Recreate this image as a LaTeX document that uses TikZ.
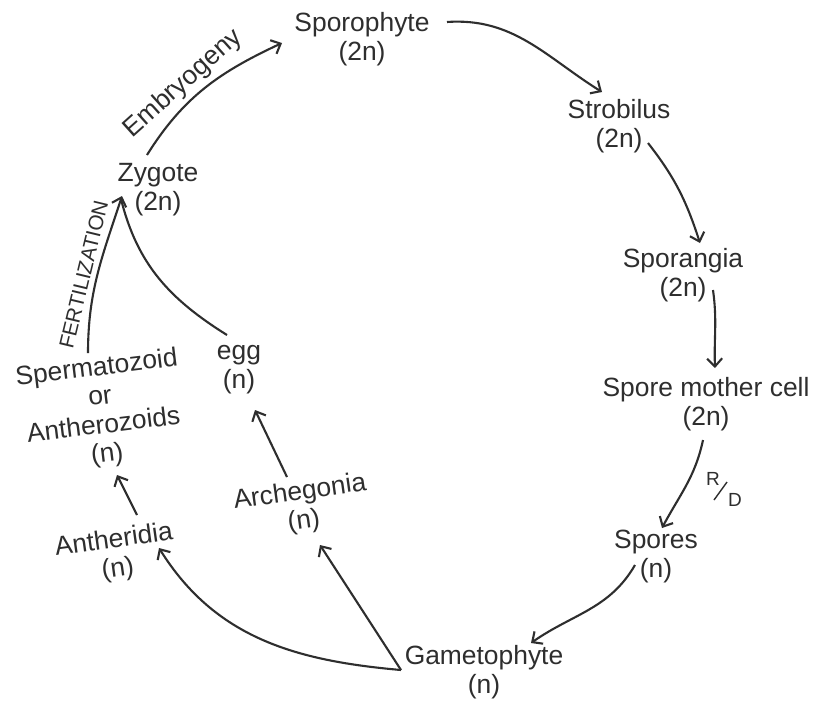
\documentclass[tikz,border=0pt]{standalone}
\usepackage{fontspec}
\setmainfont{Liberation Sans}
\usetikzlibrary{arrows.meta,calc}
\definecolor{ink}{HTML}{2E2E2E}
\begin{document}
\begin{tikzpicture}[x=1pt,y=1pt,
  lab/.style={align=center,inner sep=0pt,text=ink,font=\fontsize{26.4}{29}\selectfont},
  small/.style={inner sep=0pt,text=ink,font=\fontsize{20.8}{24}\selectfont},
  tiny/.style={inner sep=0pt,text=ink,font=\fontsize{19}{22}\selectfont},
  conn/.style={draw=ink,line width=2.1pt},
  arr/.style={conn,-{Straight Barb[length=8pt,width=15pt]}}]
\useasboundingbox (0,0) rectangle (816,-702);
\fill[white] (0,0) rectangle (816,-702);
% nodes
\node[lab] (spo) at (362,-39) {Sporophyte\\(2n)};
\node[lab] (str) at (619,-126) {Strobilus\\(2n)};
\node[lab] (spg) at (683,-275) {Sporangia\\(2n)};
\node[lab] (smc) at (706,-404) {Spore mother cell\\(2n)};
\node[lab] (spr) at (656,-557) {Spores\\(n)};
\node[lab] (gam) at (484,-672) {Gametophyte\\(n)};
\node[lab,rotate=8] (anth) at (116,-555) {Antheridia\\(n)};
\node[lab,rotate=8] (arch) at (302,-507) {Archegonia\\(n)};
\node[lab,rotate=7] (sperm) at (102,-412) {Spermatozoid\\or\\Antherozoids\\(n)};
\node[lab] (egg) at (239,-370) {egg\\(n)};
\node[lab] (zyg) at (158,-190) {Zygote\\(2n)};
\node[tiny] (r) at (713,-479) {R};
\node[tiny] (d) at (735,-500) {D};
% connectors
\draw[arr] ($(spo)+(85,17)$) to[out=4,in=148] ($(str)+(-17,34)$);
\draw[arr] ($(str)+(29,-17)$) to[out=-52,in=108] ($(spg)+(17,32)$);
\draw[arr] ($(spg)+(30,-15)$) to[out=-82,in=92] ($(smc)+(9,36)$);
\draw[arr] ($(smc)+(-3,-36)$) to[out=-102,in=62] ($(spr)+(6,29)$);
\draw[arr] ($(spr)+(-21,-8)$) to[out=-120,in=35] ($(gam)+(47,29)$);
\draw[arr] ($(gam)+(-83,2)$) to[out=175,in=-58] ($(anth)+(43,7)$);
\draw[arr] ($(gam)+(-83,2)$) -- ($(arch)+(18,-38)$);
\draw[arr] ($(anth)+(21,40)$) -- ($(sperm)+(15,-63)$);
\draw[arr] ($(arch)+(-15,30)$) -- ($(egg)+(16,-40)$);
\draw[arr] ($(sperm)+(-14,59)$) to[out=90,in=-108]
  node[small,sloped,above=5pt,pos=0.47] (fert) {FERTILIZATION} ($(zyg)+(-36,-6)$);
\draw[conn] ($(egg)+(-12,35)$) to[out=148,in=-76] ($(zyg)+(-37,-9)$);
\draw[arr] ($(zyg)+(-11,35)$) to[out=58,in=-155]
  node[lab,sloped,above=4pt,pos=0.42] (emb) {Embryogeny} ($(spo)+(-80,-4)$);
\draw[ink,line width=1.4pt] ($(r)+(1,-21)$) -- ($(r)+(14,-3)$);
\end{tikzpicture}
\end{document}
